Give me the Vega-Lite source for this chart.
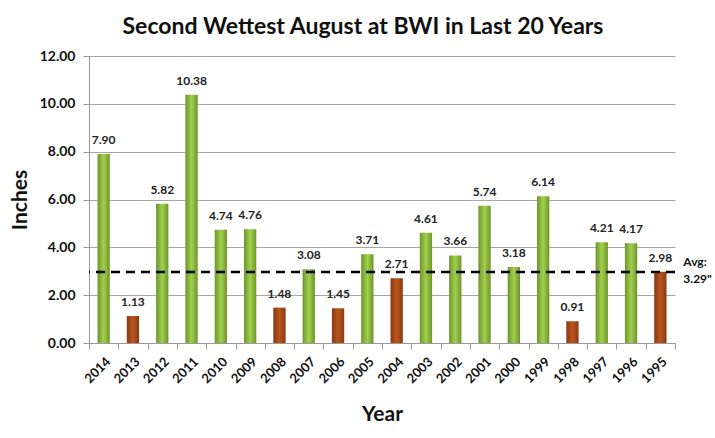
{
  "$schema": "https://vega.github.io/schema/vega-lite/v6.json",
  "width": 586,
  "height": 287,
  "autosize": "none",
  "padding": {"left": 89, "top": 56, "right": 40, "bottom": 95},
  "background": "white",
  "config": {
    "view": {"stroke": null},
    "font": "Lato"
  },
  "title": {
    "text": "Second Wettest August at BWI in Last 20 Years",
    "font": "Lato",
    "fontSize": 23,
    "fontWeight": "bold",
    "color": "#111111",
    "dx": -19,
    "offset": 10
  },
  "datasets": {
    "rain": [
      {"year": "2014", "inches": 7.90, "group": "above"},
      {"year": "2013", "inches": 1.13, "group": "below"},
      {"year": "2012", "inches": 5.82, "group": "above"},
      {"year": "2011", "inches": 10.38, "group": "above"},
      {"year": "2010", "inches": 4.74, "group": "above"},
      {"year": "2009", "inches": 4.76, "group": "above"},
      {"year": "2008", "inches": 1.48, "group": "below"},
      {"year": "2007", "inches": 3.08, "group": "above"},
      {"year": "2006", "inches": 1.45, "group": "below"},
      {"year": "2005", "inches": 3.71, "group": "above"},
      {"year": "2004", "inches": 2.71, "group": "below"},
      {"year": "2003", "inches": 4.61, "group": "above"},
      {"year": "2002", "inches": 3.66, "group": "above"},
      {"year": "2001", "inches": 5.74, "group": "above"},
      {"year": "2000", "inches": 3.18, "group": "above"},
      {"year": "1999", "inches": 6.14, "group": "above"},
      {"year": "1998", "inches": 0.91, "group": "below"},
      {"year": "1997", "inches": 4.21, "group": "above"},
      {"year": "1996", "inches": 4.17, "group": "above"},
      {"year": "1995", "inches": 2.98, "group": "below"}
    ],
    "avg": [
      {"year": "1995", "line": 2.97, "labelpos": 3.4, "label": ["Avg:", "3.29\""]}
    ]
  },
  "layer": [
    {
      "data": {"name": "rain"},
      "transform": [{"filter": "datum.group === 'above'"}],
      "mark": {
        "type": "bar",
        "width": {"band": 0.42},
        "fill": {
          "gradient": "linear", "x1": 0, "x2": 1, "y1": 0, "y2": 0,
          "stops": [
            {"offset": 0, "color": "#6b962a"},
            {"offset": 0.5, "color": "#a3cf4f"},
            {"offset": 1, "color": "#6b962a"}
          ]
        }
      },
      "encoding": {
        "x": {
          "field": "year", "type": "ordinal", "sort": null,
          "scale": {"domain": ["2014","2013","2012","2011","2010","2009","2008","2007","2006","2005","2004","2003","2002","2001","2000","1999","1998","1997","1996","1995"], "paddingInner": 0, "paddingOuter": 0},
          "axis": {
            "title": "Year",
            "titleFont": "Lato", "titleFontSize": 21, "titleFontWeight": "bold", "titleColor": "#111111",
            "titlePadding": 18,
            "labelAngle": -45,
            "labelPadding": 6,
            "labelFont": "Lato", "labelFontSize": 13, "labelFontWeight": "bold", "labelColor": "#111111",
            "tickBand": "extent",
            "tickColor": "#999999", "tickSize": 6,
            "domainColor": "#999999",
            "grid": false
          }
        },
        "y": {
          "field": "inches", "type": "quantitative",
          "scale": {"domain": [0, 12], "nice": false},
          "axis": {
            "title": "Inches",
            "titleFont": "Lato", "titleFontSize": 21, "titleFontWeight": "bold", "titleColor": "#111111",
            "titlePadding": 9,
            "values": [0, 2, 4, 6, 8, 10, 12],
            "format": ".2f",
            "labelFont": "Lato", "labelFontSize": 14, "labelFontWeight": "bold", "labelColor": "#111111",
            "labelPadding": 8,
            "tickColor": "#999999", "tickSize": 6,
            "domainColor": "#999999",
            "grid": true, "gridColor": "#a6a6a6"
          }
        }
      }
    },
    {
      "data": {"name": "rain"},
      "transform": [{"filter": "datum.group === 'below'"}],
      "mark": {
        "type": "bar",
        "width": {"band": 0.42},
        "fill": {
          "gradient": "linear", "x1": 0, "x2": 1, "y1": 0, "y2": 0,
          "stops": [
            {"offset": 0, "color": "#8a3812"},
            {"offset": 0.5, "color": "#b8561e"},
            {"offset": 1, "color": "#8a3812"}
          ]
        }
      },
      "encoding": {
        "x": {"field": "year", "type": "ordinal", "sort": null},
        "y": {"field": "inches", "type": "quantitative"}
      }
    },
    {
      "data": {"name": "rain"},
      "mark": {"type": "text", "baseline": "bottom", "dy": -7, "font": "Lato", "fontSize": 12, "fontWeight": "bold", "color": "#222222"},
      "encoding": {
        "x": {"field": "year", "type": "ordinal", "sort": null},
        "y": {"field": "inches", "type": "quantitative"},
        "text": {"field": "inches", "type": "quantitative", "format": ".2f"}
      }
    },
    {
      "data": {"name": "avg"},
      "mark": {"type": "rule", "color": "#000000", "strokeWidth": 2.5, "strokeDash": [9, 6]},
      "encoding": {
        "y": {"field": "line", "type": "quantitative"}
      }
    },
    {
      "data": {"name": "avg"},
      "mark": {"type": "text", "align": "left", "baseline": "middle", "dx": 23, "lineHeight": 17, "font": "Lato", "fontSize": 12, "fontWeight": "bold", "color": "#111111"},
      "encoding": {
        "x": {"field": "year", "type": "ordinal", "sort": null},
        "y": {"field": "labelpos", "type": "quantitative"},
        "text": {"field": "label"}
      }
    }
  ]
}
